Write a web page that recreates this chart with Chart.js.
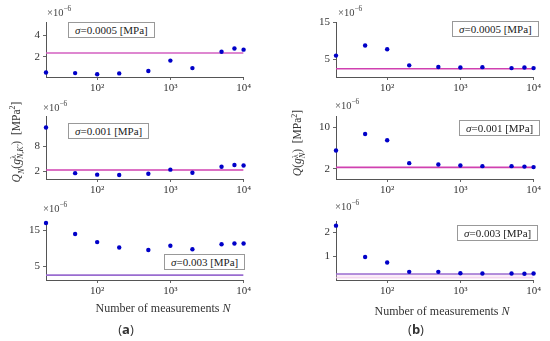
<!DOCTYPE html>
<html>
<head>
<meta charset="utf-8">
<script src="https://cdn.jsdelivr.net/npm/chart.js@4/dist/chart.umd.min.js"></script>
<style>
  body { margin: 0; background: #fff; width: 550px; height: 341px; position: relative; overflow: hidden;
         font-family: "Liberation Serif", "DejaVu Serif", serif; color: #333; }
  canvas { position: absolute; }
  .t { position: absolute; white-space: nowrap; }
  .mult { font-size: 10.5px; color: #444; }
  .box { position: absolute; border: 1px solid #999; background: #fff; font-size: 11px;
         padding: 1px 6px; white-space: nowrap; color: #222; }
  .ylab { position: absolute; font-size: 11.5px; transform: translate(-50%, -50%) rotate(-90deg); white-space: nowrap; }
  .xlab { position: absolute; font-size: 12px; transform: translateX(-50%); white-space: nowrap; }
  .tag { position: absolute; font-size: 13px; transform: translateX(-50%); font-family: "Open Sans", sans-serif; }
  .tag b { font-weight: bold; }
  sub, sup { font-size: 70%; }
  .stk { display: inline-block; vertical-align: middle; line-height: 0.95; font-size: 70%; text-align: left; }
</style>
</head>
<body>

<canvas id="a1"></canvas>
<canvas id="a2"></canvas>
<canvas id="a3"></canvas>
<canvas id="b1"></canvas>
<canvas id="b2"></canvas>
<canvas id="b3"></canvas>

<div class="t mult" style="left:47px;top:4px">×10<sup>−6</sup></div>
<div class="t mult" style="left:43px;top:99px">×10<sup>−6</sup></div>
<div class="t mult" style="left:43px;top:200px">×10<sup>−6</sup></div>
<div class="t mult" style="left:338px;top:4px">×10<sup>−6</sup></div>
<div class="t mult" style="left:335px;top:97px">×10<sup>−6</sup></div>
<div class="t mult" style="left:335px;top:198px">×10<sup>−6</sup></div>

<div class="box" id="sa1" style="left:68px;top:22px"></div>
<div class="box" id="sa2" style="left:68px;top:123px"></div>
<div class="box" id="sa3" style="left:164px;top:254px"></div>
<div class="box" id="sb1" style="left:452px;top:21px"></div>
<div class="box" id="sb2" style="left:459px;top:120px"></div>
<div class="box" id="sb3" style="left:457px;top:225px"></div>

<div class="ylab" style="left:17px;top:142px"><i>Q<sub>N</sub></i>(<i>g</i><span class="stk">λ<br><i>N,K'</i></span>)&nbsp;&nbsp;[MPa<sup>2</sup>]</div>
<div class="ylab" style="left:298px;top:143px"><i>Q</i>(<i>g</i><span class="stk">λ<br><i>N</i></span>)&nbsp;&nbsp;[MPa<sup>2</sup>]</div>

<div class="xlab" style="left:163px;top:301px">Number of measurements <i>N</i></div>
<div class="xlab" style="left:442px;top:304px">Number of measurements <i>N</i></div>
<div class="tag" style="left:126px;top:320px">(<b>a</b>)</div>
<div class="tag" style="left:416px;top:320px">(<b>b</b>)</div>

<script>
// values in units of 1e-6 MPa^2
const N = [20, 50, 100, 200, 500, 1000, 2000, 5000, 7500, 10000];
const qA1 = [0.55, 0.5, 0.39, 0.47, 0.69, 1.65, 0.96, 2.47, 2.77, 2.66];
const qA2 = [12.5, 1.56, 1.2, 1.1, 1.42, 2.4, 1.64, 3.1, 3.5, 3.4];
const qA3 = [17.0, 13.97, 11.7, 10.2, 9.5, 10.7, 9.7, 11.1, 11.3, 11.3];
const qB1 = [6.0, 8.75, 7.75, 3.35, 2.9, 2.75, 2.85, 2.6, 2.75, 2.6];
const qB2 = [5.5, 8.7, 7.5, 3.06, 2.8, 2.6, 2.48, 2.48, 2.4, 2.3];
const qB3 = [2.27, 0.96, 0.73, 0.34, 0.34, 0.28, 0.27, 0.27, 0.26, 0.27];
const refA = [2.35, 2.3, 2.5];
const refB = [2.4, 2.24, 0.25];
const refB3Low = 0.09;
const sigmas = ["0.0005", "0.001", "0.003"];
const xTicks = [100, 1000, 10000];
const yTicksA = [[2, 4], [2, 8], [5, 15]];
const yTicksB = [[5, 15], [2, 10], [1, 2]];

const sup = { 2: "²", 3: "³", 4: "⁴" };
const Y_W = 30, X_H = 22, PAD_T = 4, PAD_R = 8;

["sa1", "sa2", "sa3"].forEach((id, i) => {
  document.getElementById(id).innerHTML = "<i>σ</i>=" + sigmas[i] + " [MPa]";
});
["sb1", "sb2", "sb3"].forEach((id, i) => {
  document.getElementById(id).innerHTML = "<i>σ</i>=" + sigmas[i] + " [MPa]";
});

function panel(id, box, ys, ref, yMin, yMax, yTicks, lineColor, extra) {
  const cv = document.getElementById(id);
  const w = Y_W + (box.r - box.l) + PAD_R;
  const h = PAD_T + (box.b - box.t) + X_H;
  cv.width = w; cv.height = h;
  cv.style.left = (box.l - Y_W) + "px";
  cv.style.top = (box.t - PAD_T) + "px";
  cv.style.width = w + "px"; cv.style.height = h + "px";

  const datasets = [
    {
      type: "line",
      data: [{ x: N[0], y: ref }, { x: N[N.length - 1], y: ref }],
      borderColor: lineColor, borderWidth: 1.6, pointRadius: 0, order: 2
    },
    {
      type: "scatter",
      data: N.map((n, i) => ({ x: n, y: ys[i] })),
      backgroundColor: "#0000c8", borderColor: "#0000c8",
      pointRadius: 2.2, pointBorderWidth: 0, order: 1, clip: false
    }
  ];
  if (extra) datasets.push(extra);

  new Chart(cv, {
    type: "scatter",
    data: { datasets },
    options: {
      responsive: false, animation: false,
      layout: { padding: { top: PAD_T, right: PAD_R, left: 0, bottom: 0 } },
      plugins: { legend: { display: false }, tooltip: { enabled: false } },
      scales: {
        x: {
          type: "logarithmic", min: 20, max: 10000,
          afterBuildTicks: ax => { ax.ticks = xTicks.map(v => ({ value: v })); },
          afterFit: sc => { sc.height = X_H; },
          ticks: {
            color: "#333", font: { family: "Liberation Serif", size: 11 }, padding: 2, maxRotation: 0,
            callback: v => "10" + sup[Math.round(Math.log10(v))]
          },
          grid: { drawOnChartArea: false, tickLength: 3, color: "#666" },
          border: { color: "#555", width: 1 }
        },
        y: {
          min: yMin, max: yMax,
          afterBuildTicks: ax => { ax.ticks = yTicks.map(v => ({ value: v })); },
          afterFit: sc => { sc.width = Y_W; },
          ticks: { color: "#333", font: { family: "Liberation Serif", size: 11 }, padding: 3 },
          grid: { drawOnChartArea: false, tickLength: 3, color: "#666" },
          border: { color: "#555", width: 1 }
        }
      }
    }
  });
}

const pink = "#d35fc0", purple = "#9a6cd0";
const colA = { l: 46, r: 245 }, colB = { l: 336, r: 535 };
const rows = [{ t: 17, b: 77 }, { t: 111, b: 179 }, { t: 216, b: 280 }];

panel("a1", { ...colA, ...rows[0] }, qA1, refA[0], 0.14, 5.15, yTicksA[0], pink);
panel("a2", { ...colA, ...rows[1] }, qA2, refA[1], 0.16, 15.1, yTicksA[1], "#d040b0");
panel("a3", { ...colA, ...rows[2] }, qA3, refA[2], 1.15, 17.4, yTicksA[2], purple);
panel("b1", { ...colB, ...rows[0] }, qB1, refB[0], 0.17, 15, yTicksB[0], "#d040b0");
panel("b2", { ...colB, ...rows[1] }, qB2, refB[1], 0, 12.06, yTicksB[1], "#d040b0");
panel("b3", { ...colB, ...rows[2] }, qB3, refB[2], 0, 2.44, yTicksB[2], purple, {
  type: "line",
  data: [{ x: N[0], y: refB3Low }, { x: N[N.length - 1], y: refB3Low }],
  borderColor: "#f0c8e8", borderWidth: 1, pointRadius: 0,
  fill: 0, backgroundColor: "rgba(240,200,235,0.35)", order: 3
});
</script>
</body>
</html>
